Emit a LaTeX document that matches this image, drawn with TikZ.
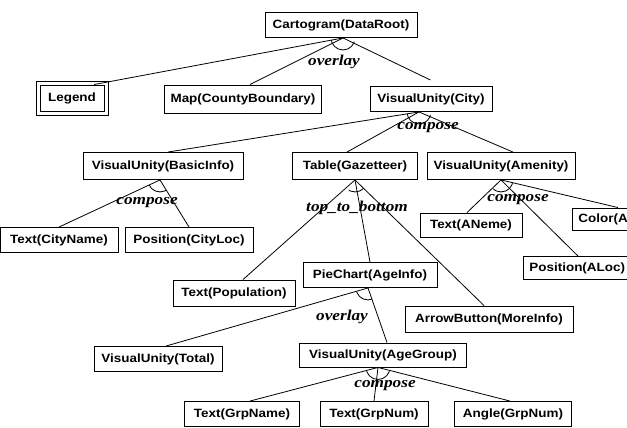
\documentclass[tikz,border=0pt]{standalone}
\usepackage{fontspec}
\newfontfamily\boxfont[FakeStretch=1.12]{Liberation Sans}
\newfontfamily\opfont[FakeStretch=1.15]{Liberation Serif}
\usetikzlibrary{calc}
\tikzset{
  unit/.style={draw,line width=0.9pt,inner xsep=6pt,inner ysep=2pt,minimum height=25pt,font=\boxfont\bfseries\fontsize{12}{14}\selectfont},
  op/.style={font=\opfont\bfseries\itshape\fontsize{15}{17}\selectfont,inner sep=0pt},
  link/.style={line width=0.8pt},
}
\newcommand{\andarc}[3]{%
  \begin{scope}
    \clip (#1) -- (#2) -- (#3) -- cycle;
    \draw[link] (#1) circle (12pt);
  \end{scope}}
\begin{document}
\begin{tikzpicture}[x=1pt,y=-1pt]
\useasboundingbox (0,0) rectangle (627,428);
\clip (0,0) rectangle (627,428);
% boxes
\node[unit,minimum width=152pt] (cart) at (341,25) {Cartogram(DataRoot)};
\node[unit,minimum width=64pt,minimum height=26pt] (legend) at (72,98) {Legend};
\draw[line width=0.9pt] ([shift={(-3.5pt,3.5pt)}]legend.north west) rectangle ([shift={(3.5pt,-3.5pt)}]legend.south east);
\node[unit,minimum width=151pt,minimum height=28pt] (map) at (243,99) {Map(CountyBoundary)};
\node[unit,minimum width=122pt] (city) at (431,99) {VisualUnity(City)};
\node[unit,minimum width=160pt,minimum height=27pt] (basicinfo) at (163,166) {VisualUnity(BasicInfo)};
\node[unit,minimum width=125pt,minimum height=27pt] (table) at (355,166) {Table(Gazetteer)};
\node[unit,minimum width=148pt,minimum height=27pt] (amenity) at (501,166) {VisualUnity(Amenity)};
\node[unit,minimum width=118pt] (cityname) at (59,240) {Text(CityName)};
\node[unit,minimum width=128pt] (cityloc) at (189,240) {Position(CityLoc)};
\node[unit,minimum width=102pt,minimum height=24pt] (aname) at (471,225) {Text(ANeme)};
\node[unit,anchor=west,text width=100pt,align=left,minimum height=22pt] (color) at (572,219) {Color(A};
\node[unit,anchor=west,text width=110pt,align=left,minimum height=23pt] (aloc) at (523,268) {Position(ALoc)};
\node[unit,minimum width=134pt] (piechart) at (370,275) {PieChart(AgeInfo)};
\node[unit,minimum width=122pt,minimum height=26pt] (population) at (234,293) {Text(Population)};
\node[unit,minimum width=168pt,minimum height=26pt] (arrowbutton) at (489,319) {ArrowButton(MoreInfo)};
\node[unit,minimum width=128pt] (total) at (158,359) {VisualUnity(Total)};
\node[unit,minimum width=167pt,minimum height=24pt] (agegroup) at (383,355) {VisualUnity(AgeGroup)};
\node[unit,minimum width=115pt] (grpname) at (242,414) {Text(GrpName)};
\node[unit,minimum width=108pt] (grpnum) at (374,414) {Text(GrpNum)};
\node[unit,minimum width=117pt] (angle) at (513,414) {Angle(GrpNum)};
% Cartogram
\coordinate (jcart) at ([xshift=2pt]cart.south);
\draw[link] (jcart) -- ([xshift=22pt]legend.north);
\draw[link] (jcart) -- ([xshift=7pt]map.north);
\draw[link,shorten >=14pt] (jcart) -- ([xshift=12pt]city.north);
\andarc{jcart}{legend.north east}{city.north east}
\node[op] (ovcart) at (334,62) {overlay};
% City
\coordinate (jcity) at ([xshift=-12pt]city.south);
\draw[link] (jcity) -- ([xshift=5pt]basicinfo.north);
\draw[link] (jcity) -- ([xshift=-8pt]table.north);
\draw[link] (jcity) -- ([xshift=12pt]amenity.north);
\andarc{jcity}{basicinfo.north}{amenity.north east}
\node[op] (cpcity) at (428,128) {compose};
% BasicInfo
\coordinate (jbasic) at ([xshift=-3pt]basicinfo.south);
\draw[link] (jbasic) -- (cityname.north);
\draw[link] (jbasic) -- (cityloc.north);
\andarc{jbasic}{cityname.north}{cityloc.north}
\node[op] (cpbasic) at (147,203) {compose};
% Table
\coordinate (jtable) at (table.south);
\draw[link] (jtable) -- ([xshift=9pt]population.north);
\draw[link] (jtable) -- (piechart.north);
\draw[link] (jtable) -- ([xshift=-5pt]arrowbutton.north);
\andarc{jtable}{population.north east}{arrowbutton.north}
\node[op] (tbtable) at (357,208) {top\_to\_bottom};
% Amenity
\coordinate (jamen) at (amenity.south);
\draw[link] (jamen) -- ([xshift=-4pt]aname.north);
\draw[link] (jamen) -- ([xshift=55pt]aloc.north west);
\draw[link] (jamen) -- ([xshift=46pt]color.north west);
\andarc{jamen}{aname.north}{[xshift=46pt]color.north west}
\node[op] (cpamen) at (518,200) {compose};
% PieChart
\coordinate (jpie) at ([xshift=-2pt]piechart.south);
\draw[link] (jpie) -- ([xshift=8pt]total.north);
\draw[link] (jpie) -- ([xshift=4pt]agegroup.north);
\andarc{jpie}{[xshift=8pt]total.north}{[xshift=4pt]agegroup.north}
\node[op] (ovpie) at (342,317) {overlay};
% AgeGroup
\coordinate (jage) at ([xshift=-5pt]agegroup.south);
\draw[link] (jage) -- ([xshift=8pt]grpname.north);
\draw[link] (jage) -- (grpnum.north);
\draw[link] (jage) -- ([xshift=-3pt]angle.north);
\andarc{jage}{[xshift=8pt]grpname.north}{[xshift=-3pt]angle.north}
\node[op] (cpage) at (385,386) {compose};
\end{tikzpicture}
\end{document}
